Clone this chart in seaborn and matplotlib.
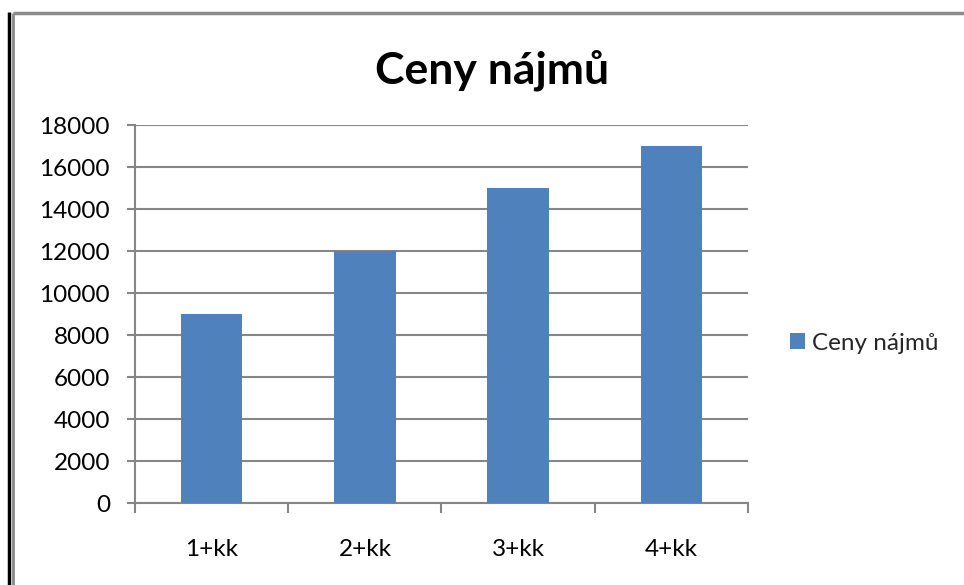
import matplotlib
matplotlib.use("Agg")
import matplotlib.pyplot as plt
import seaborn as sns
import pandas as pd
from matplotlib.lines import Line2D
from matplotlib.patches import Patch

categories = ["1+kk", "2+kk", "3+kk", "4+kk"]
values = [9000, 12000, 15000, 17000]
series_name = "Ceny nájmů"
title = "Ceny nájmů"
yticks = [0, 2000, 4000, 6000, 8000, 10000, 12000, 14000, 16000, 18000]

sns.set_theme(style="white")
plt.rcParams['font.family'] = ['Lato', 'DejaVu Sans']

df = pd.DataFrame({"cat": categories, "value": values})

W, H = 964, 585
fig = plt.figure(figsize=(W / 100, H / 100), dpi=100)
ax = fig.add_axes([135 / W, 1 - 503 / H, (748 - 135) / W, (503 - 125) / H])

bar_color = "#4F81BD"
grid_color = "#868686"

sns.barplot(data=df, x="cat", y="value", color=bar_color, width=0.4,
            saturation=1, ax=ax, zorder=3, linewidth=0, edgecolor="none")

ax.set_ylim(0, 18000)
ax.set_xlim(-0.5, len(categories) - 0.5)
ax.set_yticks(yticks)
ax.set_yticklabels([str(v) for v in yticks])
ax.set_xlabel("")
ax.set_ylabel("")
ax.yaxis.grid(True, color=grid_color, linewidth=1.5, zorder=0)
ax.set_axisbelow(True)

for s in ["top", "right"]:
    ax.spines[s].set_visible(False)
for s in ["left", "bottom"]:
    ax.spines[s].set_color(grid_color)
    ax.spines[s].set_linewidth(1.5)

fs = 17.5
ax.tick_params(axis="y", which="major", length=6, width=1.5, color=grid_color,
               labelsize=fs, pad=12, left=True, labelcolor="black")
ax.tick_params(axis="x", which="major", length=0, labelsize=fs, pad=26,
               labelcolor="black")
ax.set_xticks([i - 0.5 for i in range(len(categories) + 1)], minor=True)
ax.tick_params(axis="x", which="minor", length=7, width=1.5, color=grid_color,
               bottom=True)

fig.text(492 / W, 1 - 70 / H, title, ha="center", va="center",
         fontsize=32, fontweight="bold", color="black")

handles = [Patch(facecolor=bar_color, edgecolor="none", label=series_name)]
fig.legend(handles=handles, loc="center left", bbox_to_anchor=(790 / W, 1 - 343 / H),
           frameon=False, fontsize=fs, handlelength=0.62, handleheight=0.62,
           handletextpad=0.3, borderaxespad=0, borderpad=0)

# chart border
fig.add_artist(Line2D([13 / W, (W - 0.5) / W], [1 - 13 / H, 1 - 13 / H], transform=fig.transFigure,
                      color="#8a8a8a", linewidth=2.5, solid_capstyle="butt"))
fig.add_artist(Line2D([13 / W, 13 / W], [0, 1 - 13 / H], transform=fig.transFigure,
                      color="#8a8a8a", linewidth=2, solid_capstyle="butt"))
fig.add_artist(Line2D([9 / W, 9 / W], [0, 1 - 12 / H], transform=fig.transFigure,
                      color="black", linewidth=2.5, solid_capstyle="butt"))

fig.savefig("out.png", dpi=100, facecolor="white")
